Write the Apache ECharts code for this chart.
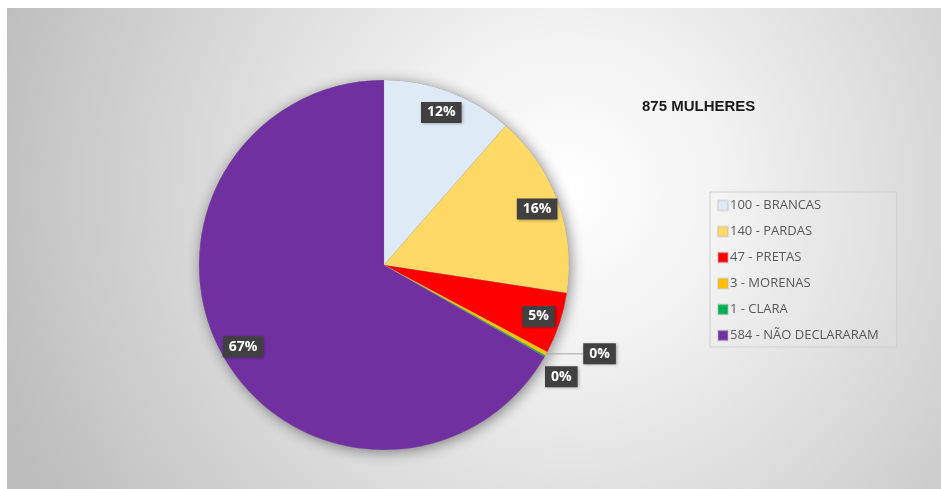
<!DOCTYPE html>
<html>
<head>
<meta charset="utf-8">
<script src="https://cdn.jsdelivr.net/npm/echarts@6/dist/echarts.min.js"></script>
<style>
  html, body { margin: 0; padding: 0; background: #ffffff; }
  #chart { position: absolute; left: 7px; top: 8px; width: 934px; height: 481px; }
</style>
</head>
<body>
<div id="chart"></div>
<script>
// Women by declared skin colour
const categories = ['100 - BRANCAS', '140 - PARDAS', '47 - PRETAS', '3 - MORENAS', '1 - CLARA', '584 - NÃO DECLARARAM'];
const counts = [100, 140, 47, 3, 1, 584];
const sliceColors = ['#DEEBF7', '#FFD966', '#FF0000', '#FFC000', '#00B050', '#7030A0'];
const titleText = '875 MULHERES';

const center = [377, 257];
const radius = 185;

const labelBox = {
  color: '#ffffff',
  fontWeight: 'bold',
  fontSize: 14,
  fontFamily: 'Open Sans, Liberation Sans, sans-serif',
  backgroundColor: '#404040',
  padding: [4, 6, 3, 6],
  shadowColor: 'rgba(0,0,0,0.35)',
  shadowBlur: 3,
  shadowOffsetX: 1,
  shadowOffsetY: 1,
  formatter: '{d}%'
};

const smallSlices = [3, 4];

const mainData = categories.map((name, i) => {
  const item = { name: name, value: counts[i], itemStyle: { color: sliceColors[i] } };
  if (i === 3) {
    item.label = Object.assign({ show: true, position: 'outside', distanceToLabelLine: 0 }, labelBox);
    item.labelLine = { show: true, length: 0, length2: 29, lineStyle: { color: '#a6a6a6', width: 1 } };
  } else if (i === 4) {
    item.label = Object.assign({ show: true, position: 'outside', distanceToLabelLine: 0 }, labelBox);
    item.labelLine = { show: false, length: 0, length2: 0 };
  } else {
    item.label = { show: false };
  }
  return item;
});

const insideData = categories.map((name, i) => ({
  name: name,
  value: counts[i],
  label: { show: smallSlices.indexOf(i) < 0 }
}));

const shadowData = categories.map((name, i) => ({ name: name, value: counts[i] }));

const chart = echarts.init(document.getElementById('chart'), null, { renderer: 'canvas' });
chart.setOption({
  animation: false,
  backgroundColor: {
    type: 'radial', x: 0.6, y: 0.38, r: 1.25,
    colorStops: [
      { offset: 0, color: '#ffffff' },
      { offset: 0.25, color: '#f3f3f3' },
      { offset: 1, color: '#bdbdbd' }
    ]
  },
  title: {
    text: titleText,
    left: 630,
    top: 86,
    textStyle: { fontSize: 15, fontWeight: 'bold', color: '#1a1a1a', fontFamily: 'Liberation Sans, Arial, sans-serif' }
  },
  legend: {
    orient: 'vertical',
    left: 703,
    top: 184,
    padding: [7, 18, 5, 7],
    borderColor: '#cfcfcf',
    borderWidth: 1,
    backgroundColor: 'rgba(255,255,255,0.08)',
    itemWidth: 10,
    itemHeight: 10,
    itemGap: 13,
    icon: 'rect',
    data: categories,
    textStyle: { fontSize: 13, color: '#595959', fontFamily: 'Open Sans, Liberation Sans, sans-serif', padding: [0, 0, 0, -3] }
  },
  series: [
    {
      type: 'pie',
      z: 2,
      center: center,
      radius: radius,
      startAngle: 90,
      clockwise: true,
      percentPrecision: 0,
      avoidLabelOverlap: true,
      itemStyle: { borderColor: 'rgba(180,180,180,0.35)', borderWidth: 0.5 },
      emphasis: { disabled: true },
      data: mainData
    },
    {
      // soft drop shadow underneath the pie
      type: 'pie',
      silent: true,
      z: 1,
      center: center,
      radius: radius,
      startAngle: 90,
      clockwise: true,
      legendHoverLink: false,
      label: { show: false },
      labelLine: { show: false },
      itemStyle: { color: '#8a8a8a', shadowBlur: 14, shadowColor: 'rgba(0,0,0,0.45)', shadowOffsetX: 2, shadowOffsetY: 2 },
      emphasis: { disabled: true },
      data: shadowData
    },
    {
      // ring used only to place the percentage boxes near the rim
      type: 'pie',
      z: 3,
      silent: true,
      center: center,
      radius: [135, radius],
      startAngle: 90,
      clockwise: true,
      percentPrecision: 0,
      legendHoverLink: false,
      itemStyle: { color: 'rgba(0,0,0,0)' },
      emphasis: { disabled: true },
      labelLine: { show: false },
      label: Object.assign({ position: 'inside' }, labelBox),
      data: insideData
    }
  ]
});
</script>
</body>
</html>
